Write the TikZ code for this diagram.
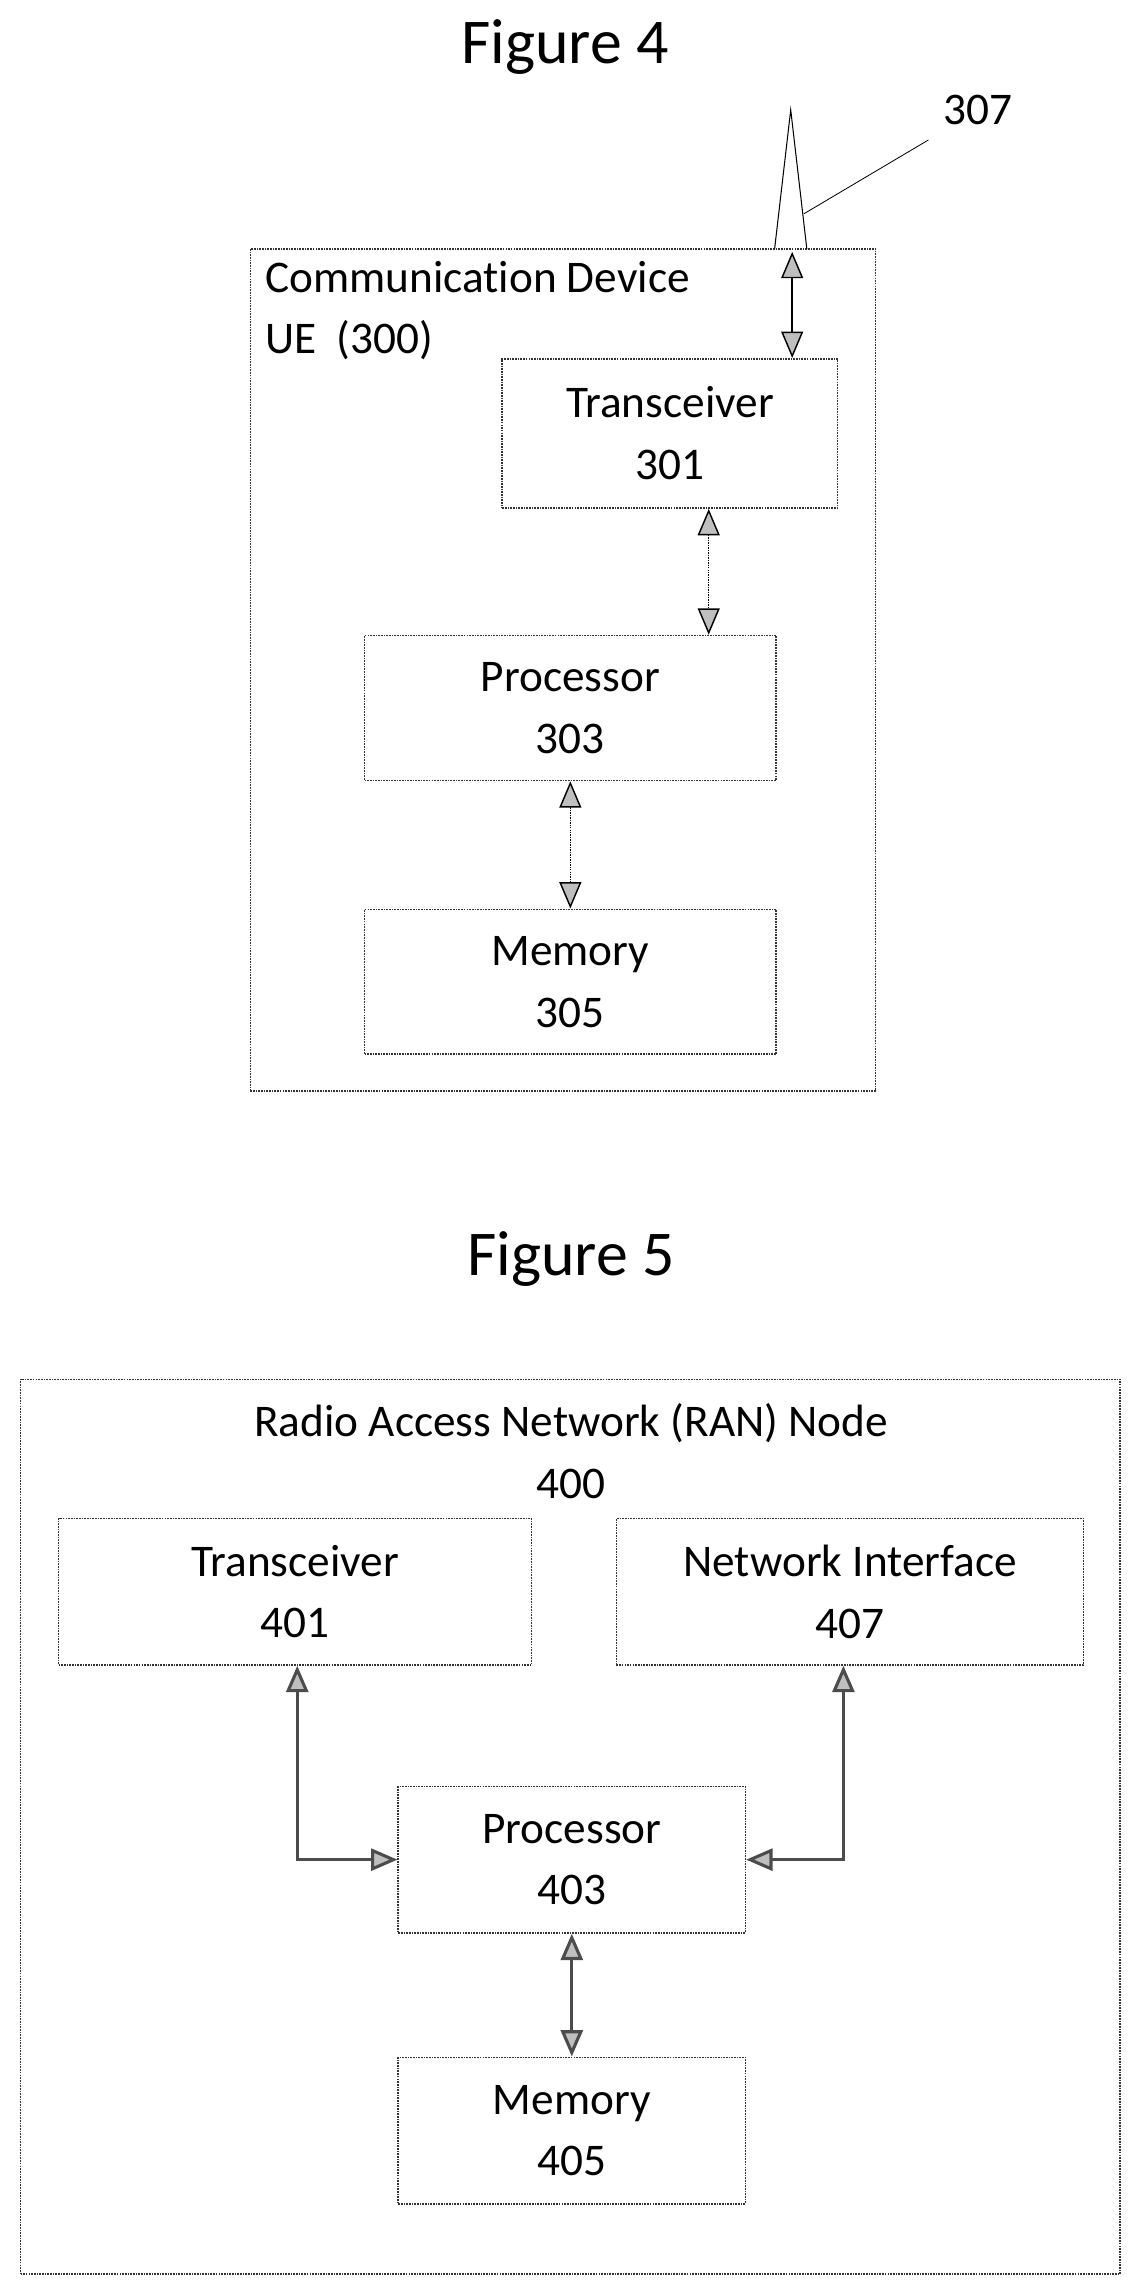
\documentclass[tikz,border=0pt]{standalone}
\usepackage{fontspec}
\setmainfont{Carlito}[RawFeature=-liga]
\usetikzlibrary{arrows.meta,positioning}
\tikzset{
  blk/.style={draw=black!80,densely dotted,line width=1.6pt,align=center,inner sep=0pt},
  dbl/.style={{Triangle[fill=gray!50,length=0.9cm,width=0.75cm]}-{Triangle[fill=gray!50,length=0.9cm,width=0.75cm]},densely dotted,line width=1.4pt},
  dblthick/.style={dbl,line width=3pt,solid,black!70}
}
\begin{document}
\begin{tikzpicture}[x=0.05cm,y=-0.05cm]
  \useasboundingbox (0,0) rectangle (780,1568);
  \fontsize{44}{60}\selectfont
  % Figure 4
  \node (fig4) at (386,32) {\fontsize{62}{70}\selectfont Figure 4};
  \node[blk,minimum width=427*0.05cm,minimum height=575*0.05cm] (ue) at (384.5,457.5) {};
  \node[anchor=north west,align=left,inner sep=0pt] (uelbl) at (181,178) {Communication Device\\UE\ \ (300)};
  \node[blk,minimum width=229*0.05cm,minimum height=102*0.05cm] (t301) at (457.5,296) {Transceiver\\301};
  \node[blk,minimum width=281*0.05cm,minimum height=99*0.05cm] (p303) at (389.5,483.5) {Processor\\303};
  \node[blk,minimum width=281*0.05cm,minimum height=99*0.05cm] (m305) at (389.5,670.5) {Memory\\305};
  % antenna
  \coordinate (ant) at (540,75);
  \coordinate (antL) at (529,170);
  \coordinate (antR) at (551,170);
  \coordinate (antB) at (541,172);
  \draw[line width=1pt] (antL) -- (ant) -- (antR);
  \node (l307) at (668,75) {307};
  \coordinate (ld) at (549,146);
  \draw[line width=0.8pt] (ld) -- (l307.south west);
  \draw[dbl,solid] (antB) -- (t301.north -| antB);
  \draw[dbl] (t301.south -| 484,0) -- (p303.north -| 484,0);
  \draw[dbl] (p303.south) -- (m305.north);
  % Figure 5
  \node (fig5) at (390,860) {\fontsize{62}{70}\selectfont Figure 5};
  \node[blk,minimum width=751*0.05cm,minimum height=611*0.05cm] (ran) at (389.5,1247.5) {};
  \node[align=center] (ranlbl) at (390,991) {Radio Access Network (RAN) Node\\400};
  \node[blk,minimum width=323*0.05cm,minimum height=100*0.05cm] (t401) at (201.5,1087) {Transceiver\\401};
  \node[blk,minimum width=319*0.05cm,minimum height=100*0.05cm] (n407) at (580.5,1087) {Network Interface\\407};
  \node[blk,minimum width=237*0.05cm,minimum height=100*0.05cm] (p403) at (390.5,1270) {Processor\\403};
  \node[blk,minimum width=237*0.05cm,minimum height=100*0.05cm] (m405) at (390.5,1455) {Memory\\405};
  \draw[dblthick] (t401.south -| 203,0) |- (p403.west);
  \draw[dblthick] (n407.south -| 576,0) |- (p403.east);
  \draw[dblthick] (p403.south) -- (m405.north);
\end{tikzpicture}
\end{document}
